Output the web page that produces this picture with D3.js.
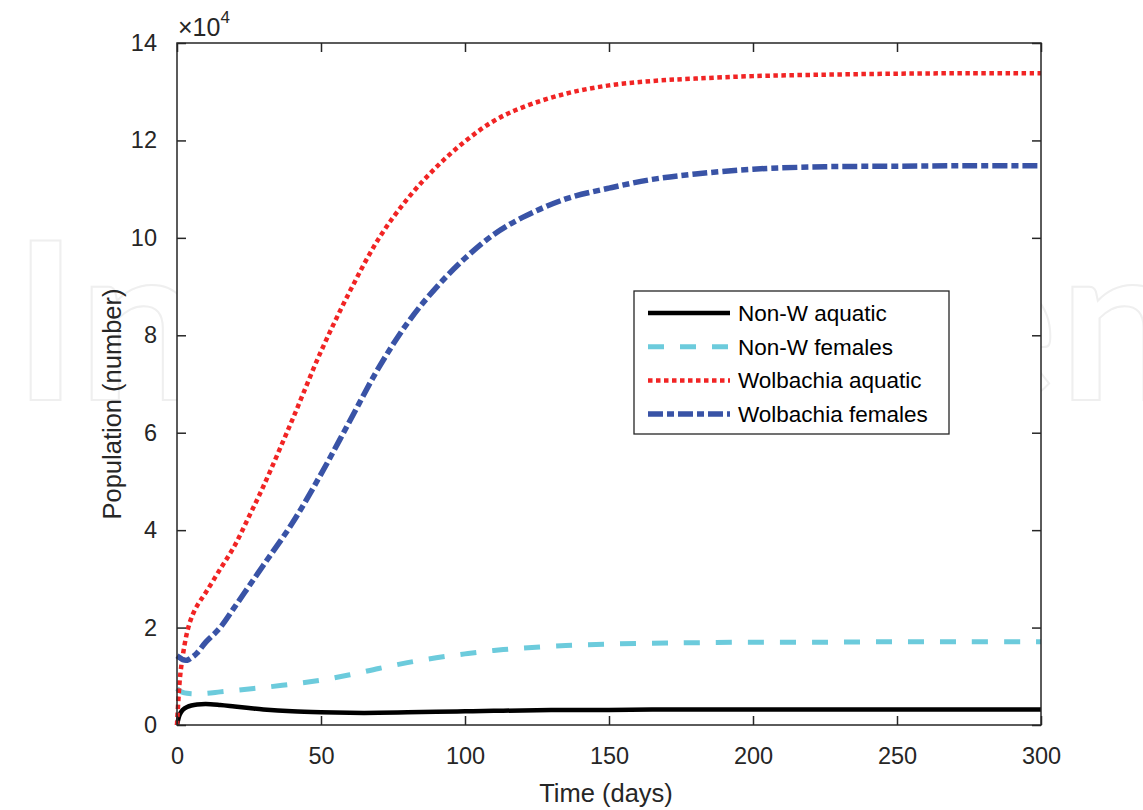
<!DOCTYPE html>
<html>
<head>
<meta charset="utf-8">
<script src="https://cdn.jsdelivr.net/npm/d3@7"></script>
<style>
  html, body { margin: 0; padding: 0; background: #fff; }
  svg { display: block; font-family: "Liberation Sans", Arial, Helvetica, sans-serif; }
</style>
</head>
<body>
<svg id="svg" width="1143" height="810"></svg>
<script>
// values, population in units of 1e4
let days = [0, 1, 2, 3.5, 5, 7, 10, 15, 20, 25, 30, 40, 50, 60, 70, 80, 90, 100,
  110, 120, 135, 150, 165, 180, 200, 225, 250, 275, 300];

let nonWAquatic = [0, 0.22, 0.31, 0.37, 0.40, 0.42, 0.43, 0.41, 0.38, 0.35, 0.32, 0.28,
  0.26, 0.25, 0.25, 0.26, 0.27, 0.28, 0.29, 0.30, 0.31, 0.31, 0.32, 0.32, 0.32, 0.32,
  0.32, 0.32, 0.32];

let nonWFemales = [0.75, 0.70, 0.67, 0.65, 0.64, 0.64, 0.65, 0.68, 0.71, 0.74, 0.77, 0.84,
  0.92, 1.03, 1.16, 1.28, 1.38, 1.46, 1.53, 1.58, 1.63, 1.66, 1.68, 1.69, 1.70, 1.70,
  1.71, 1.71, 1.71];

let wolAquatic = [0, 0.95, 1.42, 1.9, 2.2, 2.45, 2.72, 3.2, 3.68, 4.28, 4.9, 6.26,
  7.67, 8.9, 9.98, 10.8, 11.45, 11.98, 12.4, 12.68, 12.96, 13.13, 13.22, 13.27, 13.32,
  13.35, 13.37, 13.38, 13.38];

let wolFemales = [1.42, 1.38, 1.34, 1.33, 1.38, 1.48, 1.70, 2.0, 2.42, 2.85, 3.28, 4.14,
  5.15, 6.24, 7.33, 8.25, 8.98, 9.58, 10.07, 10.42, 10.8, 11.02, 11.2, 11.31, 11.41, 11.46,
  11.47, 11.48, 11.48];

let xTicks = [0, 50, 100, 150, 200, 250, 300];
let yTicks = [0, 2, 4, 6, 8, 10, 12, 14];

let series = [
  { name: "Non-W aquatic", values: nonWAquatic, color: "#000000", width: 4.5, dash: null },
  { name: "Non-W females", values: nonWFemales, color: "#6ccbdc", width: 5, dash: "16,16" },
  { name: "Wolbachia aquatic", values: wolAquatic, color: "#f12424", width: 4.5, dash: "4.5,3.5" },
  { name: "Wolbachia females", values: wolFemales, color: "#3953a6", width: 5.5, dash: "15,4,7,4" }
];

let svg = d3.select("svg");
let margin = {top: 43, right: 102, bottom: 85, left: 177};
let width = 1143 - margin.left - margin.right;
let height = 810 - margin.top - margin.bottom;
let axisColor = "#262626";

// faint watermark behind the plot
svg.append("text")
  .attr("x", 13)
  .attr("y", 400)
  .attr("textLength", 1170)
  .attr("lengthAdjust", "spacing")
  .style("font-family", "Lato, 'Open Sans', sans-serif")
  .style("font-weight", "bold")
  .style("font-size", "220px")
  .attr("fill", "#fff")
  .attr("stroke", "#efefef")
  .attr("stroke-width", 2)
  .text("IntechOpen");

let g = svg.append("g")
  .attr("transform", "translate(" + margin.left + "," + margin.top + ")");

g.append("rect")
  .attr("width", width)
  .attr("height", height)
  .attr("fill", "#fff");

let x = d3.scaleLinear().domain([0, 300]).range([0, width]);
let y = d3.scaleLinear().domain([0, 14]).range([height, 0]);

let line = d3.line()
  .x((d, i) => x(days[i]))
  .y(d => y(d))
  .curve(d3.curveCatmullRom.alpha(0.5));

series.forEach(s => {
  g.append("path")
   .datum(s.values)
   .attr("fill", "none")
   .attr("stroke", s.color)
   .attr("stroke-width", s.width)
   .attr("stroke-dasharray", s.dash)
   .attr("stroke-linejoin", "round")
   .attr("d", line);
});

// axes with inward ticks on all four sides
function styleAxis(sel) {
  sel.select(".domain").remove();
  sel.selectAll(".tick line").attr("stroke", axisColor).attr("stroke-width", 1.5);
  sel.selectAll(".tick text")
    .attr("fill", axisColor)
    .style("font-family", "'Liberation Sans', Arial, sans-serif")
    .style("font-size", "23.5px");
}

g.append("g")
  .attr("transform", "translate(0," + height + ")")
  .call(d3.axisBottom(x).tickValues(xTicks).tickSizeInner(-9).tickPadding(22))
  .call(styleAxis);

g.append("g")
  .call(d3.axisTop(x).tickValues(xTicks).tickSizeInner(-9).tickFormat(""))
  .call(styleAxis);

g.append("g")
  .call(d3.axisLeft(y).tickValues(yTicks).tickSizeInner(-9).tickPadding(20))
  .call(styleAxis);

g.append("g")
  .attr("transform", "translate(" + width + ",0)")
  .call(d3.axisRight(y).tickValues(yTicks).tickSizeInner(-9).tickFormat(""))
  .call(styleAxis);

g.append("rect")
  .attr("width", width)
  .attr("height", height)
  .attr("fill", "none")
  .attr("stroke", axisColor)
  .attr("stroke-width", 1.5);

// exponent label
let expo = g.append("text")
  .attr("x", 1)
  .attr("y", -7)
  .attr("fill", axisColor)
  .style("font-size", "25px");
expo.append("tspan").text("\u00d710");
expo.append("tspan").attr("dy", -13).style("font-size", "17px").text("4");

// axis titles
g.append("text")
  .attr("x", width / 2 - 3)
  .attr("y", height + 77)
  .attr("text-anchor", "middle")
  .attr("fill", axisColor)
  .style("font-size", "25.5px")
  .text("Time (days)");

g.append("text")
  .attr("transform", "translate(-56," + (height / 2 + 20) + ") rotate(-90)")
  .attr("text-anchor", "middle")
  .attr("fill", axisColor)
  .style("font-size", "25.5px")
  .text("Population (number)");

// legend
let legend = g.append("g")
  .attr("transform", "translate(" + (634 - margin.left) + "," + (291 - margin.top) + ")");

legend.append("rect")
  .attr("width", 315)
  .attr("height", 143)
  .attr("fill", "#fff")
  .attr("stroke", axisColor)
  .attr("stroke-width", 1.3);

series.forEach((s, i) => {
  let ly = 22 + i * 33.7;
  legend.append("line")
    .attr("x1", 14).attr("x2", 96)
    .attr("y1", ly).attr("y2", ly)
    .attr("stroke", s.color)
    .attr("stroke-width", s.width)
    .attr("stroke-dasharray", s.dash);
  legend.append("text")
    .attr("x", 104)
    .attr("y", ly)
    .attr("dy", "0.35em")
    .attr("fill", "#000")
    .style("font-size", "22.5px")
    .text(s.name);
});
</script>
</body>
</html>
